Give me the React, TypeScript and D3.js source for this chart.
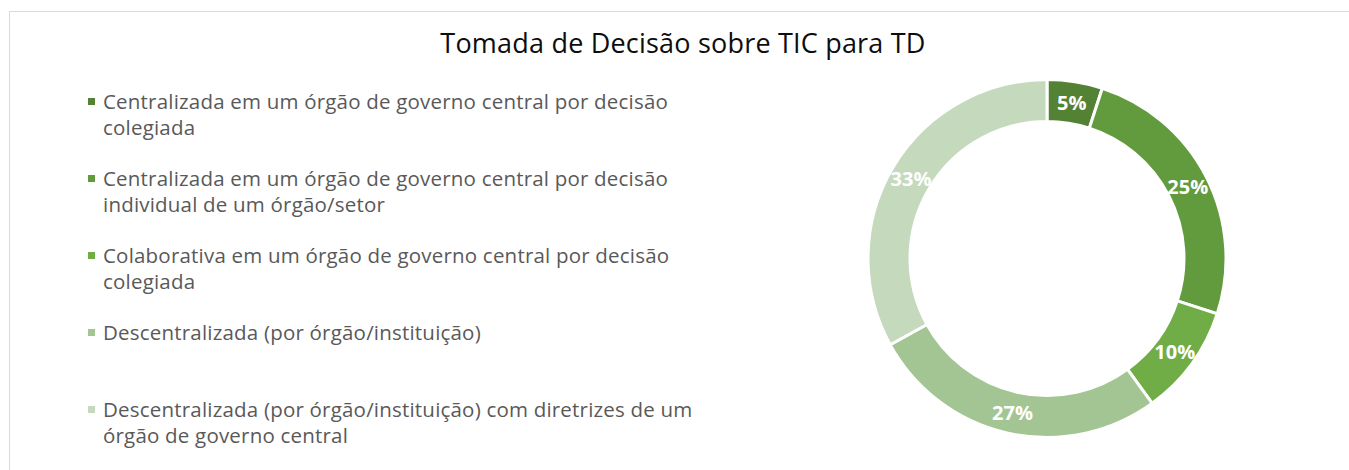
import React from "react";
import * as d3 from "d3";

const title = "Tomada de Decisão sobre TIC para TD";
const categories = [
  ["Centralizada em um órgão de governo central por decisão", "colegiada"],
  ["Centralizada em um órgão de governo central por decisão", "individual de um órgão/setor"],
  ["Colaborativa em um órgão de governo central por decisão", "colegiada"],
  ["Descentralizada (por órgão/instituição)"],
  ["Descentralizada (por órgão/instituição) com diretrizes de um", "órgão de governo central"],
];
const values = [5, 25, 10, 27, 33];
const colors = ["#548235", "#629b3e", "#70ad47", "#a3c593", "#c5d9bd"];

const W = 1349;
const H = 470;
const FONT = "'Open Sans', Lato, sans-serif";

export default function App() {
  const cx = 1047;
  const cy = 258.5;
  const rOuter = 179;
  const rInner = 137;
  const pie = d3.pie<number>().sort(null).value((d) => d);
  const arcs = pie(values);
  const arcGen = d3.arc<d3.PieArcDatum<number>>().innerRadius(rInner).outerRadius(rOuter);
  const total = d3.sum(values);
  const legendTop = d3.scaleLinear().domain([0, 4]).range([102, 410]);

  return (
    <svg width={W} height={H} style={{ position: "absolute", left: 0, top: 0 }}>
      <rect x={0} y={0} width={W} height={H} fill="#fff" />
      <rect x={9.5} y={11.5} width={W + 10} height={H + 10} fill="none" stroke="#d9d9d9" strokeWidth={1} />
      <text x={683} y={53} textAnchor="middle" fontFamily={FONT} fontSize={27} letterSpacing={0.2} fill="#0d0d0d">
        {title}
      </text>
      {categories.map((lines, i) => {
        const y = legendTop(i);
        return (
          <g key={i}>
            <rect x={88} y={y - 4} width={7} height={7} fill={colors[i]} />
            {lines.map((ln, j) => (
              <text key={j} x={103} y={y + 7 + j * 26} fontFamily={FONT} fontSize={20.5} letterSpacing={0.2} fill="#595959">
                {ln}
              </text>
            ))}
          </g>
        );
      })}
      <g transform={`translate(${cx},${cy})`}>
        {arcs.map((a, i) => (
          <path key={i} d={arcGen(a) || ""} fill={colors[i]} stroke="#fff" strokeWidth={3} />
        ))}
        {arcs.map((a, i) => {
          const [x, y] = arcGen.centroid(a);
          return (
            <text
              key={i}
              x={x}
              y={y}
              textAnchor="middle"
              dominantBaseline="central"
              fontFamily={FONT}
              fontWeight="bold"
              fontSize={20}
              fill="#fff"
            >
              {Math.round((a.data / total) * 100)}%
            </text>
          );
        })}
      </g>
    </svg>
  );
}
